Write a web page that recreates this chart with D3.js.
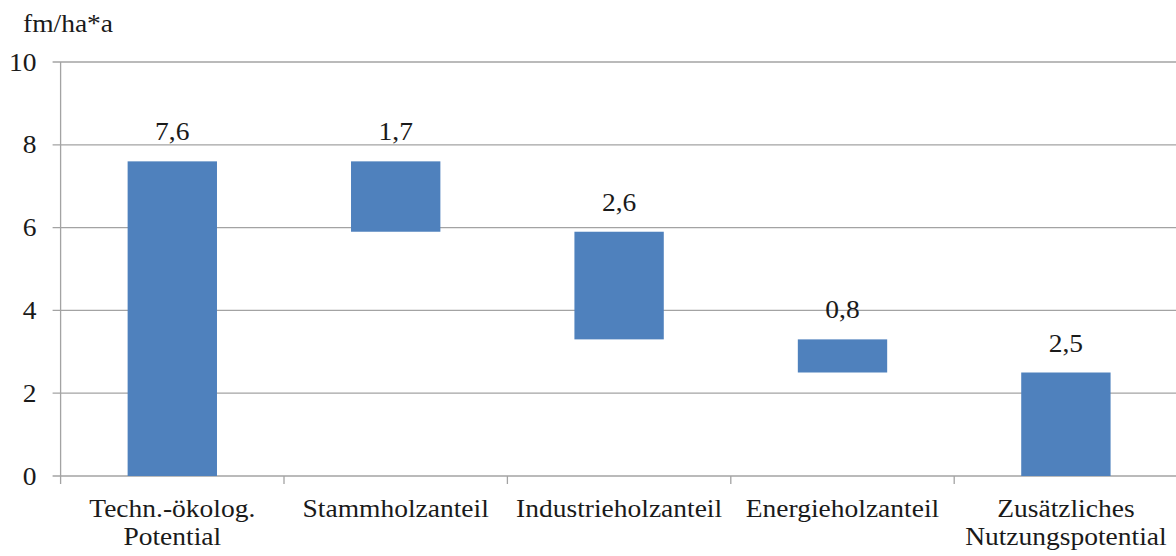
<!DOCTYPE html>
<html>
<head>
<meta charset="utf-8">
<script src="https://cdn.jsdelivr.net/npm/d3@7"></script>
<style>
  html, body { margin: 0; padding: 0; background: #ffffff; }
  svg { display: block; }
</style>
</head>
<body>
<svg id="chart" width="1176" height="556"></svg>
<script>
// ---- data ----
const categories = ["Techn.-ökolog. Potential", "Stammholzanteil", "Industrieholzanteil", "Energieholzanteil", "Zusätzliches Nutzungspotential"];
const categoryLines = [["Techn.-ökolog.", "Potential"], ["Stammholzanteil"], ["Industrieholzanteil"], ["Energieholzanteil"], ["Zusätzliches", "Nutzungspotential"]];
const values = [7.6, 1.7, 2.6, 0.8, 2.5];
const kinds = ["total", "down", "down", "down", "total"];
const valueLabels = ["7,6", "1,7", "2,6", "0,8", "2,5"];
const yTicks = [0, 2, 4, 6, 8, 10];
const yUnit = "fm/ha*a";

// ---- layout ----
const W = 1176, H = 556;
const margin = { left: 60.6, right: -1.6, top: 62, bottom: 80 };
const svg = d3.select("#chart");
const g = svg.append("g").attr("transform", `translate(${margin.left},${margin.top})`);
const iw = W - margin.left - margin.right;
const ih = H - margin.top - margin.bottom;

const x = d3.scaleBand().domain(categories).range([0, iw]).paddingInner(0.6).paddingOuter(0.3);
const y = d3.scaleLinear().domain([0, 10]).range([ih, 0]);

// waterfall segments
let running = 0;
const segs = categories.map((c, i) => {
  let lo, hi;
  if (kinds[i] === "total") {
    lo = 0; hi = values[i]; running = values[i];
  } else {
    hi = running; lo = running - values[i]; running = lo;
  }
  return { c, lo, hi, label: valueLabels[i] };
});

const gridColor = "#a3a3a3";
const textColor = "#1a1a1a";
const sx = 1.1; // horizontal stretch of the text in the reference

// gridlines
g.append("g").selectAll("line").data(yTicks).join("line")
  .attr("x1", -8).attr("x2", W)
  .attr("y1", d => y(d)).attr("y2", d => y(d))
  .attr("stroke", gridColor).attr("stroke-width", 1.3);

// left axis line
g.append("line").attr("x1", 0).attr("x2", 0).attr("y1", y(10)).attr("y2", ih + 8)
  .attr("stroke", gridColor).attr("stroke-width", 1.3);

function styleText(sel) {
  return sel.style("font-family", '"Liberation Serif", Tinos, serif')
    .attr("font-size", 25).attr("fill", textColor);
}

// y tick labels
g.append("g").selectAll("text").data(yTicks).join("text")
  .call(styleText)
  .attr("text-anchor", "end")
  .attr("transform", d => `translate(${-24},${y(d) + 8.5}) scale(${sx},1)`)
  .text(d => d3.format("d")(d));

// x axis ticks at band boundaries
const step = x.step();
const boundaries = d3.range(1, categories.length).map(i => x(categories[i]) - x.paddingInner() * step / 2);
g.append("g").selectAll("line").data(boundaries).join("line")
  .attr("x1", d => d).attr("x2", d => d)
  .attr("y1", ih).attr("y2", ih + 8)
  .attr("stroke", gridColor).attr("stroke-width", 1.3);

// bars
g.append("g").selectAll("rect").data(segs).join("rect")
  .attr("x", d => x(d.c))
  .attr("width", x.bandwidth())
  .attr("y", d => y(d.hi))
  .attr("height", d => y(d.lo) - y(d.hi))
  .attr("fill", "#4f81bd");

// value labels
g.append("g").selectAll("text").data(segs).join("text")
  .call(styleText)
  .attr("text-anchor", "middle")
  .attr("transform", d => `translate(${x(d.c) + x.bandwidth() / 2},${y(d.hi) - 21}) scale(${sx},1)`)
  .text(d => d.label);

// category labels
const catG = g.append("g").selectAll("g").data(categories).join("g");
catG.each(function (c, i) {
  const lines = categoryLines[i];
  d3.select(this).selectAll("text").data(lines).join("text")
    .call(styleText)
    .attr("text-anchor", "middle")
    .attr("transform", (l, j) => `translate(${x(c) + x.bandwidth() / 2},${ih + 40.7 + j * 28.3}) scale(${sx},1)`)
    .text(l => l);
});

// unit label
svg.append("text")
  .call(styleText)
  .attr("transform", `translate(23,31.7) scale(${sx},1)`)
  .text(yUnit);
</script>
</body>
</html>
